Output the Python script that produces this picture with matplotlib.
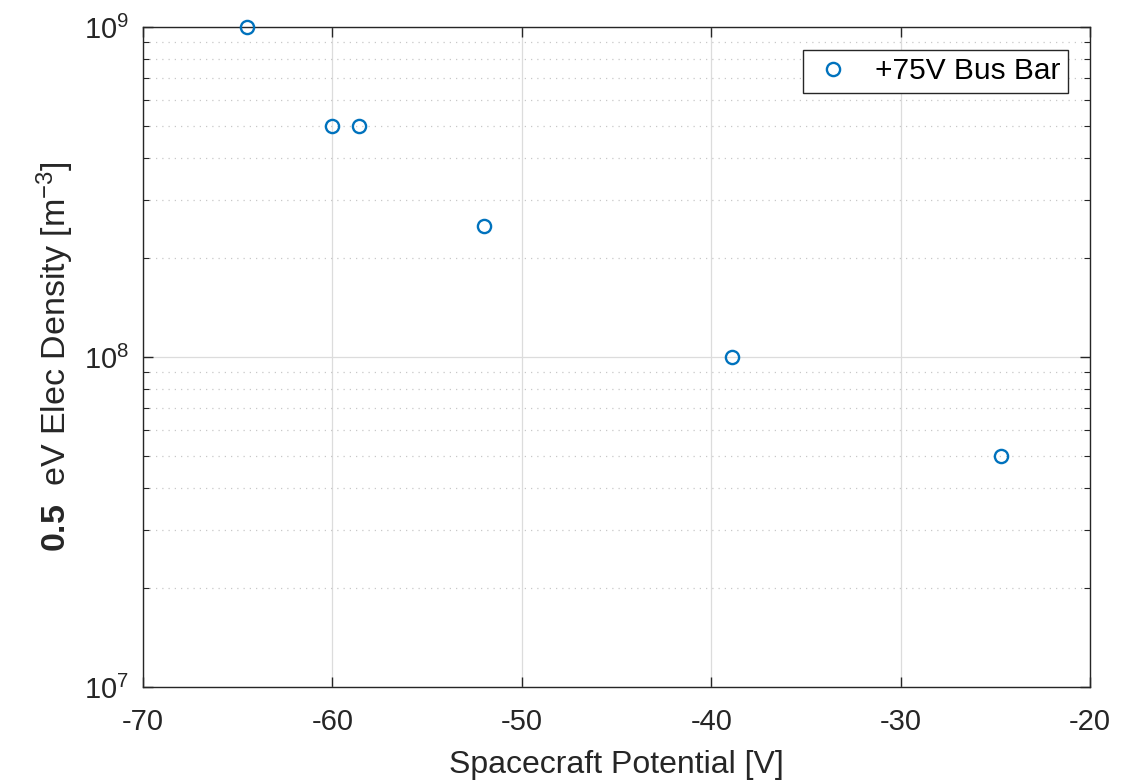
import matplotlib
matplotlib.use("Agg")
import matplotlib.pyplot as plt
from matplotlib.ticker import LogLocator, NullFormatter, FixedLocator

potential = [-64.5, -60.0, -58.6, -52.0, -38.9, -24.7]
density = [1e9, 5e8, 5e8, 2.5e8, 1e8, 5e7]
series_label = "+75V Bus Bar"
x_ticks = [-70, -60, -50, -40, -30, -20]

plt.rcParams['font.family'] = ['Liberation Sans', 'DejaVu Sans']
plt.rcParams['mathtext.fontset'] = 'custom'
plt.rcParams['mathtext.rm'] = 'Liberation Sans'
plt.rcParams['mathtext.bf'] = 'Liberation Sans:bold'
plt.rcParams['mathtext.it'] = 'Liberation Sans:italic'
plt.rcParams['axes.unicode_minus'] = False

fig = plt.figure(figsize=(11.37, 7.81), dpi=100)
ax = fig.add_axes([143/1137, 1-687/781, (1090-143)/1137, (687-27)/781])

ax.plot(potential, density, linestyle='none', marker='o', markersize=9.5,
        markerfacecolor='none', markeredgecolor=(0, 0.447, 0.741),
        markeredgewidth=1.7, label=series_label, clip_on=False, zorder=5)

ax.set_yscale('log')
ax.set_xlim(-70, -20)
ax.set_ylim(1e7, 1e9)
ax.xaxis.set_major_locator(FixedLocator(x_ticks))
ax.yaxis.set_major_locator(LogLocator(base=10, numticks=10))
ax.yaxis.set_minor_locator(LogLocator(base=10, subs=range(2, 10), numticks=20))
ax.yaxis.set_minor_formatter(NullFormatter())

ax.grid(True, which='major', color='#dcdcdc', linestyle='-', linewidth=0.9)
ax.grid(True, which='minor', axis='y', color='#c8c8c8', linestyle=(0, (1, 4)), linewidth=0.9)
ax.set_axisbelow(True)

for s in ax.spines.values():
    s.set_color('#262626')
    s.set_linewidth(1.0)

ax.tick_params(which='both', direction='in', top=True, right=True, colors='#262626',
               labelsize=21, labelcolor='#262626')
ax.tick_params(which='major', length=7, width=1.0)
ax.tick_params(which='minor', length=4, width=0.8)
ax.tick_params(axis='x', pad=15)
ax.tick_params(axis='y', pad=10)

ax.set_xlabel('Spacecraft Potential [V]', fontsize=23, color='#262626', labelpad=10)
ax.set_ylabel(r'$\mathbf{0.5}$  eV Elec Density [m$^{-3}$]', fontsize=24.5,
              color='#262626', labelpad=6)

leg = ax.legend(loc='upper right', fontsize=21.5, frameon=True, fancybox=False,
                edgecolor='#262626', framealpha=1, borderpad=0.25,
                handlelength=1.5, handletextpad=0.65, borderaxespad=0,
                bbox_to_anchor=((1068-143)/947, (687-50)/660))
leg.get_frame().set_linewidth(1.0)

fig.savefig('out.png', dpi=100)
